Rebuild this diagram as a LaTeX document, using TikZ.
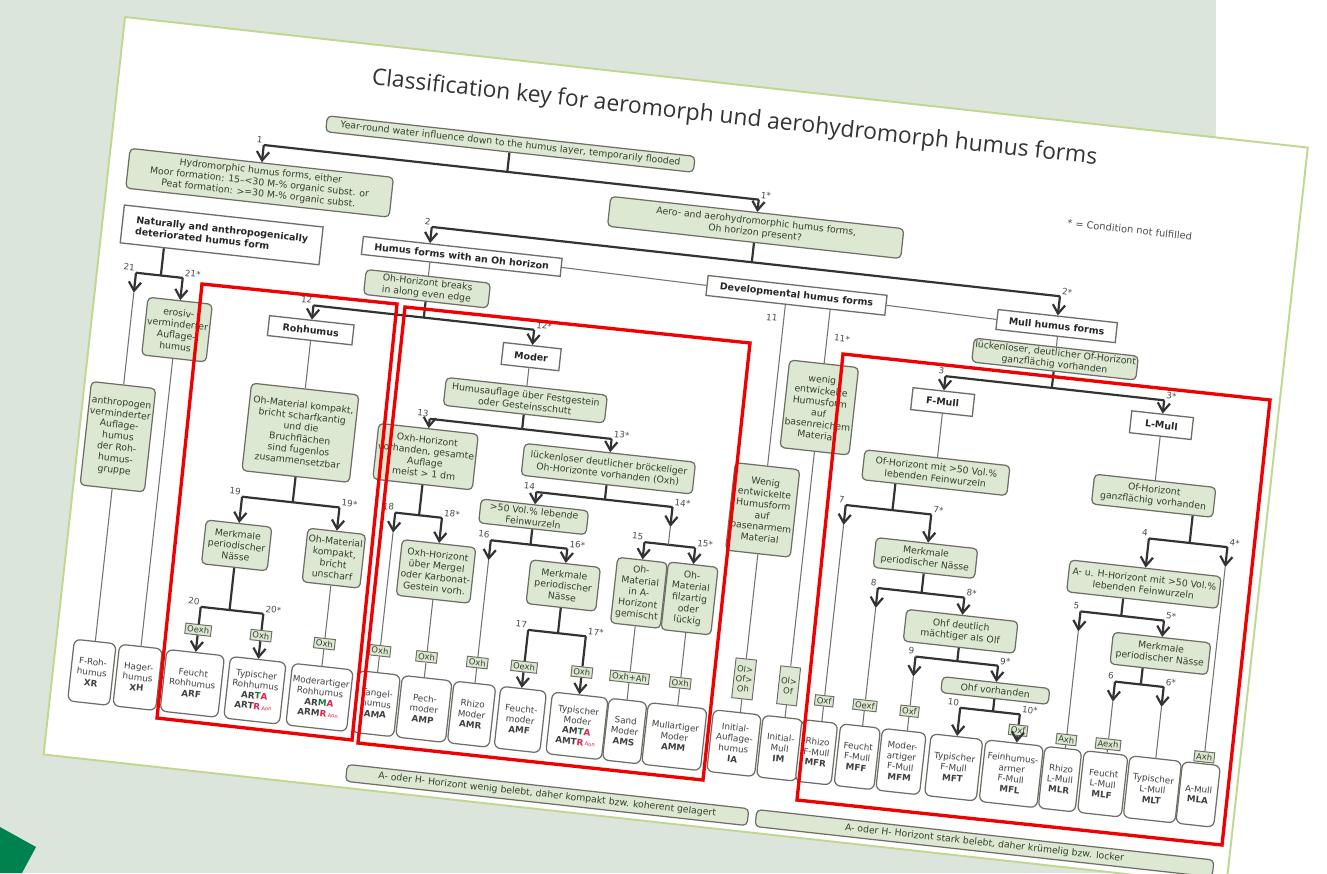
\documentclass[tikz,border=0pt]{standalone}
\usepackage{fontspec}
\setmainfont{DejaVu Sans}
\newfontfamily\titlefont{Open Sans}
\usetikzlibrary{arrows.meta,calc}

\definecolor{bggray}{HTML}{DCE5DC}
\definecolor{pageline}{HTML}{BFD88F}
\definecolor{condfill}{HTML}{DDE8D3}
\definecolor{condtext}{HTML}{34402E}
\definecolor{boxline}{HTML}{6E6E66}
\definecolor{redbox}{HTML}{F00000}
\definecolor{cornergreen}{HTML}{00824E}
\definecolor{codegreen}{HTML}{1E7A3C}
\definecolor{codered}{HTML}{E0204A}

\tikzset{
  hd/.style={draw=boxline, line width=0.75pt, fill=white, inner sep=1pt, font=\bfseries\fontsize{5.4}{6.5}\selectfont, text=black!85},
  cond/.style={draw=boxline, line width=0.7pt, fill=condfill, rounded corners=2.5pt, align=center, inner sep=1pt, font=\fontsize{5.3}{6.4}\selectfont, text=condtext},
  form/.style={draw=boxline, line width=0.7pt, fill=white, rounded corners=3.5pt, align=center, inner sep=0.8pt, minimum height=1.24cm, font=\fontsize{5}{6}\selectfont, text=black!75},
  hz/.style={draw=boxline, line width=0.55pt, fill=condfill, inner sep=1.1pt, align=center, font=\fontsize{4.8}{5.6}\selectfont, text=condtext},
  num/.style={inner sep=0.8pt, font=\fontsize{5}{5.6}\selectfont, text=black!70},
  bar/.style={draw=black!80, line width=1.25pt},
  thinl/.style={draw=black!55, line width=0.6pt},
  arr/.style={bar, -{Straight Barb[length=5pt,width=7pt]}},
}

\begin{document}
\begin{tikzpicture}[x=0.02cm, y=-0.02cm]
\useasboundingbox (0,0) rectangle (1327,873);
\fill[white] (0,0) rectangle (1327,873);
\fill[bggray] (0,0) rectangle (1216,873);
\fill[cornergreen] (0,827) -- (36,847) -- (22,873) -- (0,873) -- cycle;

\begin{scope}[shift={(125,17)}, rotate=-6.3, transform shape]
\filldraw[fill=white, draw=pageline, line width=1.1pt] (0,0) rectangle (1190,742);

\node[font=\titlefont\fontsize{13}{15}\selectfont, text=black!80] (title) at (617,34) {Classification key for aeromorph und aerohydromorph humus forms};
\node[num, font=\fontsize{5.6}{6.5}\selectfont] (note) at (1022,101) {* = Condition not fulfilled};

% upper part
\node[cond, minimum width=7.4cm, minimum height=0.32cm] (water) at (397,84) {Year-round water influence down to the humus layer, temporarily flooded};
\node[cond, minimum width=5.3cm, minimum height=0.8cm] (hydro) at (152,150) {Hydromorphic humus forms, either\\Moor formation: 15--<30 M-\% organic subst. or\\Peat formation: >=30 M-\% organic subst.};
\node[cond, minimum width=5.9cm, minimum height=0.6cm] (aero) at (650,140) {Aero- and aerohydromorphic humus forms,\\Oh horizon present?};
\node[hd, align=left, minimum width=4cm, minimum height=0.76cm] (natural) at (120,206) {Naturally and anthropogenically\\deteriorated humus form};
\node[hd, minimum width=4cm, minimum height=0.36cm] (ohor) at (361,201) {Humus forms with an Oh horizon};
\node[hd, minimum width=3.6cm, minimum height=0.4cm] (devel) at (698,203) {Developmental humus forms};
\node[hd, minimum width=2.4cm, minimum height=0.4cm] (mull) at (960,205) {Mull humus forms};
\node[cond, minimum width=2.5cm, minimum height=0.5cm] (edge) at (330,237) {Oh-Horizont breaks\\in along even edge};

% deteriorated forms
\node[cond, minimum width=1.24cm, minimum height=1.16cm] (erosive) at (86,305) {erosiv-\\verminderter\\Auflage-\\humus};
\node[cond, minimum width=1.28cm, minimum height=2.08cm] (anthro) at (39,418) {anthropogen\\verminderter\\Auflage-\\humus\\der Roh-\\humus-\\gruppe};

% Rohhumus
\node[hd, minimum width=1.7cm, minimum height=0.4cm] (roh) at (219,291) {Rohhumus};
\node[cond, minimum width=2.16cm, minimum height=1.76cm] (compact) at (220,394) {Oh-Material kompakt,\\bricht scharfkantig\\und die\\Bruchflächen\\sind fugenlos\\zusammensetzbar};
\node[cond, minimum width=1.32cm, minimum height=0.88cm] (wetr) at (169,513) {Merkmale\\periodischer\\Nässe};
\node[cond, minimum width=1.16cm, minimum height=1.08cm] (blunt) at (267,515) {Oh-Material\\kompakt,\\bricht\\unscharf};

% Moder
\node[hd, minimum width=1.16cm, minimum height=0.44cm] (moder) at (441,293) {Moder};
\node[cond, minimum width=3.24cm, minimum height=0.56cm] (humdep) at (440,337) {Humusauflage über Festgestein\\oder Gesteinsschutt};
\node[cond, minimum width=2cm, minimum height=1.12cm] (oxhvor) at (347,404) {Oxh-Horizont\\vorhanden, gesamte\\Auflage\\meist > 1 dm};
\node[cond, minimum width=3.44cm, minimum height=0.64cm] (brittle) at (530,396) {lückenloser deutlicher bröckeliger\\Oh-Horizonte vorhanden (Oxh)};
\node[cond, minimum width=1.48cm, minimum height=1.12cm] (marl) at (370,517) {Oxh-Horizont\\über Mergel\\oder Karbonat-\\Gestein vorh.};
\node[cond, minimum width=2.16cm, minimum height=0.48cm] (roots) at (461,452) {>50 Vol.\% lebende\\Feinwurzeln};
\node[cond, minimum width=1.4cm, minimum height=0.88cm] (wetm) at (498,517) {Merkmale\\periodischer\\Nässe};
\node[cond, minimum width=1cm, minimum height=1.32cm] (inmix) at (574,516) {Oh-\\Material\\in A-\\Horizont\\gemischt};
\node[cond, minimum width=1cm, minimum height=1.36cm] (felty) at (625,516) {Oh-\\Material\\filzartig\\oder\\lückig};

% developmental forms
\node[cond, minimum width=1.3cm, minimum height=1.76cm] (wup) at (733,312) {wenig\\entwickelte\\Humusform\\auf\\basenreichem\\Material};
\node[cond, minimum width=1.3cm, minimum height=1.76cm] (wlow) at (688,420) {Wenig\\entwickelte\\Humusform\\auf\\basenarmem\\Material};
\node[num] (n11) at (676,228) {11};
\node[num] (n11s) at (748,241) {11*};

% Mull
\node[cond, minimum width=3.1cm, minimum height=0.48cm] (ofclose) at (962,238) {lückenloser, deutlicher Of-Horizont\\ganzflächig vorhanden};
\node[hd, minimum width=1.24cm, minimum height=0.44cm] (fmull) at (855,293) {F-Mull};
\node[hd, minimum width=1.24cm, minimum height=0.44cm] (lmull) at (1075,292) {L-Mull};
\node[cond, minimum width=2.92cm, minimum height=0.6cm] (ofroots) at (856,364) {Of-Horizont mit >50 Vol.\%\\lebenden Feinwurzeln};
\node[cond, minimum width=2.44cm, minimum height=0.6cm] (ofall) at (1075,363) {Of-Horizont\\ganzflächig vorhanden};
\node[cond, minimum width=2.04cm, minimum height=0.6cm] (wetf) at (855,450) {Merkmale\\periodischer Nässe};
\node[cond, minimum width=2.24cm, minimum height=0.64cm] (ohfthick) at (898,519) {Ohf deutlich\\mächtiger als Olf};
\node[cond, minimum width=2.16cm, minimum height=0.32cm] (ohfpres) at (939,574) {Ohf vorhanden};
\node[cond, minimum width=3.04cm, minimum height=0.64cm] (ahroots) at (1075,452) {A- u. H-Horizont mit >50 Vol.\%\\lebenden Feinwurzeln};
\node[cond, minimum width=1.96cm, minimum height=0.64cm] (wetl) at (1099,519) {Merkmale\\periodischer Nässe};

% horizon labels
\node[hz] (hzarf) at (140,601) {Oexh};
\node[hz] (hzart) at (203,600) {Oxh};
\node[hz] (hzarm) at (267,601) {Oxh};
\node[hz] (hzama) at (323,602) {Oxh};
\node[hz] (hzamp) at (370,603) {Oxh};
\node[hz] (hzamr) at (421,603) {Oxh};
\node[hz] (hzamf) at (468,602) {Oexh};
\node[hz] (hzamt) at (526,601) {Oxh};
\node[hz] (hzams) at (574,601) {Oxh+Ah};
\node[hz] (hzamm) at (625,601) {Oxh};
\node[hz, minimum height=0.8cm] (hzia) at (688,590) {Ol>\\Of>\\Oh};
\node[hz, minimum height=0.76cm] (hzim) at (733,592) {Ol>\\Of};
\node[hz] (hzmfr) at (770,603) {Oxf};
\node[hz] (hzmff) at (811,603) {Oexf};
\node[hz] (hzmfm) at (856,604) {Oxf};
\node[hz] (hzmfl) at (966,611) {Oxf};
\node[hz] (hzmlr) at (1015,615) {Axh};
\node[hz] (hzmlf) at (1057,615) {Aexh};
\node[hz] (hzmla) at (1154,617) {Axh};

% humus forms
\node[form, minimum width=0.84cm] (xr) at (39,655) {F-Roh-\\humus\\\textbf{XR}};
\node[form, minimum width=0.86cm] (xh) at (85,655) {Hager-\\humus\\\textbf{XH}};
\node[form, minimum width=1.16cm] (arf) at (140,655) {Feucht\\Rohhumus\\\textbf{ARF}};
\node[form, minimum width=1.12cm] (art) at (203,655) {Typischer\\Rohhumus\\\textbf{AR\textcolor{codegreen}{T}\textcolor{codered}{A}}\\\textbf{ART\textcolor{codered}{R}}\,\textcolor{codered}{\fontsize{3}{3}\selectfont Aon}};
\node[form, minimum width=1.22cm] (arm) at (268,655) {Moderartiger\\Rohhumus\\\textbf{AR\textcolor{codegreen}{M}\textcolor{codered}{A}}\\\textbf{ARM\textcolor{codered}{R}}\,\textcolor{codered}{\fontsize{3}{3}\selectfont Aon}};
\node[form, minimum width=0.84cm] (ama) at (325,655) {Tangel-\\humus\\\textbf{AMA}};
\node[form, minimum width=1cm] (amp) at (373,655) {Pech-\\moder\\\textbf{AMP}};
\node[form, minimum width=0.84cm] (amr) at (421,655) {Rhizo\\Moder\\\textbf{AMR}};
\node[form, minimum width=0.92cm] (amf) at (470,655) {Feucht-\\moder\\\textbf{AMF}};
\node[form, minimum width=1.12cm] (amt) at (527,655) {Typischer\\Moder\\\textbf{AM\textcolor{codegreen}{T}\textcolor{codered}{A}}\\\textbf{AMT\textcolor{codered}{R}}\,\textcolor{codered}{\fontsize{3}{3}\selectfont Aon}};
\node[form, minimum width=0.76cm] (ams) at (575,655) {Sand\\Moder\\\textbf{AMS}};
\node[form, minimum width=1.18cm] (amm) at (625,655) {Mullartiger\\Moder\\\textbf{AMM}};
\node[form, minimum width=0.96cm] (ia) at (685,655) {Initial-\\Auflage-\\humus\\\textbf{IA}};
\node[form, minimum width=0.8cm] (im) at (731,655) {Initial-\\Mull\\\textbf{IM}};
\node[form, minimum width=0.72cm] (mfr) at (768,655) {Rhizo\\F-Mull\\\textbf{MFR}};
\node[form, minimum width=0.8cm] (mff) at (809,655) {Feucht\\F-Mull\\\textbf{MFF}};
\node[form, minimum width=0.88cm] (mfm) at (853,655) {Moder-\\artiger\\F-Mull\\\textbf{MFM}};
\node[form, minimum width=1.04cm] (mft) at (906,655) {Typischer\\F-Mull\\\textbf{MFT}};
\node[form, minimum width=1.16cm] (mfl) at (964,655) {Feinhumus-\\armer\\F-Mull\\\textbf{MFL}};
\node[form, minimum width=0.74cm] (mlr) at (1013,655) {Rhizo\\L-Mull\\\textbf{MLR}};
\node[form, minimum width=0.88cm] (mlf) at (1056,655) {Feucht\\L-Mull\\\textbf{MLF}};
\node[form, minimum width=1.04cm] (mlt) at (1106,655) {Typischer\\L-Mull\\\textbf{MLT}};
\node[form, minimum width=0.76cm] (mla) at (1152,655) {A-Mull\\\textbf{MLA}};

\node[cond, minimum width=8.08cm, minimum height=0.34cm] (weak) at (505,727) {A- oder H- Horizont wenig belebt, daher kompakt bzw. koherent gelagert};
\node[cond, minimum width=9.2cm, minimum height=0.34cm] (strong) at (945,727) {A- oder H- Horizont stark belebt, daher krümelig bzw. locker};

% key bars
\foreach \n/\ul/\uj/\ur/\vb/\p in {1/152/397/650/112/water, 2/328/650/960/175/aero, 21/39/64/86/253/natural, 12/219/330/441/266/edge, 19/169/220/267/464/compact, 20/140/169/203/578/wetr, 13/347/440/530/366/humdep, 18/323/347/370/463/oxhvor, 14/461/530/598/427/brittle, 16/421/461/498/480/roots, 17/468/498/526/565/wetm, 3/855/962/1075/267/ofclose, 7/770/817/856/406/ofroots, 8/811/855/898/485/wetf, 9/856/898/939/549/ohfthick, 10/906/939/966/595/ohfpres, 4/1075/1116/1154/406/ofall, 5/1015/1056/1099/486/ahroots, 6/1057/1083/1106/552/wetl}{
  \coordinate (bl\n) at (\ul,\vb);
  \coordinate (br\n) at (\ur,\vb);
  \coordinate (j\n) at (\uj,\vb);
  \coordinate (sl\n) at (\ul,\vb+20);
  \coordinate (sr\n) at (\ur,\vb+20);
  \draw[bar] (bl\n) -- (br\n);
  \draw[bar] ($(\p.south west)!(j\n)!(\p.south east)$) -- (j\n);
  \node[num, anchor=south east] (nl\n) at (bl\n) {\n};
  \node[num, anchor=south west] (nr\n) at (br\n) {\n*};
}
\coordinate (bl15) at (574,465);
\coordinate (br15) at (625,465);
\coordinate (j15) at (598,465);
\draw[bar] (bl15) -- (br15);
\node[num, anchor=south east] (nl15) at (bl15) {15};
\node[num, anchor=south west] (nr15) at (br15) {15*};
\draw[arr] (br14) -- (sr14);
\draw[thinl] (sr14) -- (j15);

\foreach \a/\t in {bl1/hydro, br1/aero, bl2/ohor, br2/mull, br21/erosive, bl12/roh, br12/moder, bl19/wetr, br19/blunt, bl13/oxhvor, br13/brittle, br18/marl, bl14/roots, br16/wetm, bl15/inmix, br15/felty, bl3/fmull, br3/lmull, br7/wetf, br8/ohfthick, br9/ohfpres, bl10/mft, bl4/ahroots, br5/wetl}
  \draw[arr] (\a) -- ($(\t.north west)!(\a)!(\t.north east)$);

\foreach \a/\h/\t in {bl20/hzarf/arf, br20/hzart/art, bl17/hzamf/amf, br17/hzamt/amt, br10/hzmfl/mfl}{
  \draw[bar] (\a) -- ($(\h.north west)!(\a)!(\h.north east)$);
  \draw[arr] ($(\h.south west)!(\a)!(\h.south east)$) -- ($(\t.north west)!(\a)!(\t.north east)$);
}

\foreach \s/\a/\t in {sl21/bl21/anthro, sl18/bl18/hzama, sl16/bl16/hzamr, sl7/bl7/hzmfr, sl8/bl8/hzmff, sl9/bl9/hzmfm, sr4/br4/hzmla, sl5/bl5/hzmlr, sl6/bl6/hzmlf, sr6/br6/mlt}{
  \draw[arr] (\a) -- (\s);
  \draw[thinl] (\s) -- ($(\t.north west)!(\s)!(\t.north east)$);
}

\foreach \p/\h/\t in {blunt/hzarm/arm, marl/hzamp/amp, inmix/hzams/ams, felty/hzamm/amm, wlow/hzia/ia, wup/hzim/im}{
  \draw[thinl] ($(\p.south west)!(\h.north)!(\p.south east)$) -- (\h.north);
  \draw[thinl] (\h.south) -- ($(\t.north west)!(\h.south)!(\t.north east)$);
}
\foreach \h/\t in {hzama/ama, hzamr/amr, hzmfr/mfr, hzmff/mff, hzmfm/mfm, hzmla/mla, hzmlr/mlr, hzmlf/mlf}
  \draw[thinl] (\h.south) -- ($(\t.north west)!(\h.south)!(\t.north east)$);

\foreach \p/\t in {anthro/xr, erosive/xh, ohor/edge, roh/compact, moder/humdep, mull/ofclose, fmull/ofroots, lmull/ofall, devel/wlow, devel/wup}
  \draw[thinl] ($(\p.south west)!(\t.north)!(\p.south east)$) -- (\t.north);
\draw[thinl] (ohor.east) -- (devel.west);
\draw[thinl] (devel.east) -- (mull.west);
\end{scope}

% red frames
\draw[redbox, line width=1.9pt] (202,284) -- (397,304) -- (352,740) -- (157,718) -- cycle;
\draw[redbox, line width=1.9pt] (405,307) -- (750,343) -- (703,780) -- (358,743) -- cycle;
\draw[redbox, line width=1.9pt] (843,354) -- (1270,400) -- (1222,845) -- (797,800) -- cycle;
\end{tikzpicture}
\end{document}
